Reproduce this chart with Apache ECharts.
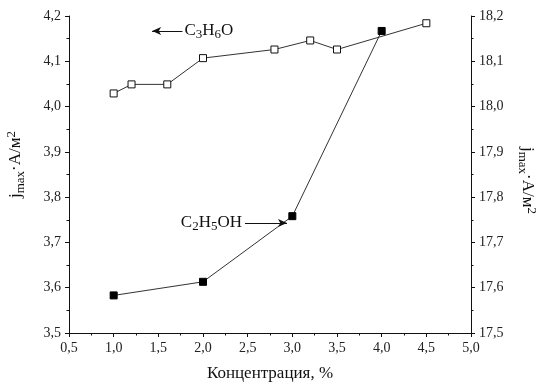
<!DOCTYPE html>
<html>
<head>
<meta charset="utf-8">
<script src="https://cdn.jsdelivr.net/npm/echarts@6/dist/echarts.min.js"></script>
<style>html,body{margin:0;padding:0;background:#fff}#c{width:540px;height:382px}</style>
</head>
<body>
<div id="c"></div>
<script>
// C3H6O (open squares, left axis)
var acetoneX = [1.0, 1.2, 1.6, 2.0, 2.8, 3.2, 3.5, 4.5];
var acetoneY = [4.029, 4.049, 4.049, 4.107, 4.126, 4.146, 4.126, 4.184];
// C2H5OH (filled squares, right axis)
var ethanolX = [1.0, 2.0, 3.0, 4.0];
var ethanolY = [17.583, 17.613, 17.758, 18.167];
var xTicks = {min: 0.5, max: 5.0, interval: 0.5};
var leftTicks = {min: 3.5, max: 4.2, interval: 0.1};
var rightTicks = {min: 17.5, max: 18.2, interval: 0.1};
var xTitle = 'Концентрация, %';

var FONT = '"Liberation Serif", "Times New Roman", serif';
function comma(v){ return v.toFixed(1).replace('.', ','); }
function pairs(xs, ys){ return xs.map(function(x,i){ return [x, ys[i]]; }); }

var chart = echarts.init(document.getElementById('c'), null, {renderer:'canvas'});
var richName = {
  n: {fontFamily: FONT, fontSize: 17, color: '#111', lineHeight: 22, verticalAlign: 'middle'},
  sub: {fontFamily: FONT, fontSize: 13, color: '#111', lineHeight: 15, verticalAlign: 'bottom'},
  sup: {fontFamily: FONT, fontSize: 13, color: '#111', lineHeight: 15, verticalAlign: 'top'}
};
var richLbl = {
  n: {fontFamily: FONT, fontSize: 17, color: '#111', lineHeight: 20, verticalAlign: 'middle'},
  sub: {fontFamily: FONT, fontSize: 13, color: '#111', lineHeight: 14, verticalAlign: 'bottom'}
};
var axisCommon = {
  axisLine: {show: true, lineStyle: {color: '#111', width: 1}},
  axisTick: {show: true, inside: false, length: 4, lineStyle: {color: '#111'}},
  minorTick: {show: true, splitNumber: 2, length: 2.5, lineStyle: {color: '#111'}},
  splitLine: {show: false},
  axisLabel: {fontFamily: FONT, fontSize: 14, color: '#222', formatter: comma, margin: 8}
};
function ax(){ var o = JSON.parse(JSON.stringify(axisCommon)); o.axisLabel.formatter = comma; return o; }

var option = {
  animation: false,
  backgroundColor: '#fff',
  grid: {left: 69, right: 69, top: 16, bottom: 49, containLabel: false, outerBoundsMode: 'none'},
  xAxis: Object.assign(ax(), {
    type: 'value', min: xTicks.min, max: xTicks.max, interval: xTicks.interval,
    name: xTitle, nameLocation: 'middle', nameGap: 32,
    nameTextStyle: {fontFamily: FONT, fontSize: 17, color: '#111'}
  }),
  yAxis: [
    Object.assign(ax(), {
      type: 'value', position: 'left', min: leftTicks.min, max: leftTicks.max, interval: leftTicks.interval,
      name: '{n|j}{sub|max}{n|·A/м}{sup|2}', nameLocation: 'middle', nameGap: 42, nameRotate: 90,
      nameTextStyle: {rich: richName, padding: [0,0,0,20]}
    }),
    Object.assign(ax(), {
      type: 'value', position: 'right', min: rightTicks.min, max: rightTicks.max, interval: rightTicks.interval,
      name: '{n|j}{sub|max}{n|·A/м}{sup|2}', nameLocation: 'middle', nameGap: 45, nameRotate: -90,
      nameTextStyle: {rich: richName, padding: [0,0,0,12]}
    })
  ],
  series: [
    {
      type: 'line', yAxisIndex: 0, data: pairs(acetoneX, acetoneY),
      symbol: 'rect', symbolSize: 7,
      lineStyle: {color: '#333', width: 1},
      itemStyle: {color: '#fff', borderColor: '#111', borderWidth: 1},
      markLine: {
        silent: true, symbol: ['none', 'arrow'], symbolSize: [6, 9],
        lineStyle: {color: '#111', width: 1, type: 'solid'},
        label: {show: true, position: 'start', distance: 2, formatter: '{n|C}{sub|3}{n|H}{sub|6}{n|O}', rich: richLbl},
        data: [[{coord: [1.77, 4.167]}, {coord: [1.43, 4.167]}]]
      }
    },
    {
      type: 'line', yAxisIndex: 1, data: pairs(ethanolX, ethanolY),
      symbol: 'rect', symbolSize: 7,
      lineStyle: {color: '#333', width: 1},
      itemStyle: {color: '#000', borderColor: '#000', borderWidth: 1},
      markLine: {
        silent: true, symbol: ['none', 'arrow'], symbolSize: [6, 9],
        lineStyle: {color: '#111', width: 1, type: 'solid'},
        label: {show: true, position: 'start', distance: 3, formatter: '{n|C}{sub|2}{n|H}{sub|5}{n|OH}', rich: richLbl},
        data: [[{coord: [2.47, 17.743]}, {coord: [2.94, 17.743]}]]
      }
    }
  ]
};
chart.setOption(option);
</script>
</body>
</html>
